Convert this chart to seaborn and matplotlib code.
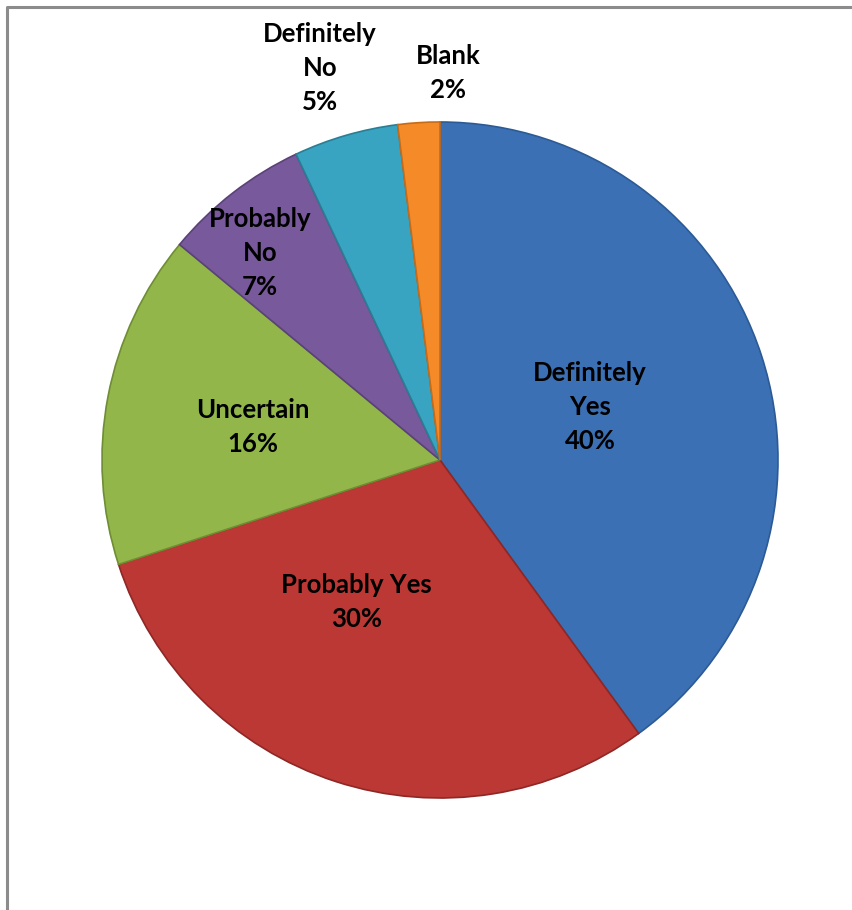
import matplotlib.pyplot as plt
import matplotlib.lines as mlines
import seaborn as sns

labels = ["Definitely\nYes", "Probably Yes", "Uncertain", "Probably\nNo", "Definitely\nNo", "Blank"]
shares = [40, 30, 16, 7, 5, 2]
colors = ["#3c70b5", "#bb3834", "#92b64a", "#78599c", "#38a4c1", "#f58a28"]
edges = ["#2c5a94", "#8e2725", "#6f8d34", "#5a4278", "#2a7d93", "#c86a17"]

# label spots (axes data units, pie radius = 1)
label_xy = [(0.444, 0.157), (-0.246, -0.420), (-0.553, 0.098),
            (-0.533, 0.612), (-0.355, 1.160), (0.024, 1.145)]

sns.set_theme(style="white")
plt.rcParams['font.family'] = ['Lato', 'DejaVu Sans']

fig = plt.figure(figsize=(8.53, 9.10), dpi=100)
ax = fig.add_axes([102 / 853, 112 / 910, 676 / 853, 676 / 910])

wedges, _ = ax.pie(shares, colors=sns.color_palette(colors), startangle=90, counterclock=False,
                   wedgeprops=dict(linewidth=1.2), radius=1)
for w, ec in zip(wedges, edges):
    w.set_edgecolor(ec)

for lab, val, (x, y) in zip(labels, shares, label_xy):
    ax.text(x, y, f"{lab}\n{val}%", ha="center", va="center", fontsize=18.5,
            fontweight="bold", color="black", linespacing=1.5)

ax.set_xlim(-1, 1)
ax.set_ylim(-1, 1)
ax.set_aspect("equal")
ax.axis("off")

# grey frame, only top and left edges visible in the crop
fx = 7 / 853
fy = 1 - 7 / 910
fig.add_artist(mlines.Line2D([fx, fx, 1], [0, fy, fy], color="#8c8c8c", lw=2.2,
                             transform=fig.transFigure))

plt.savefig("out.png", dpi=100)
